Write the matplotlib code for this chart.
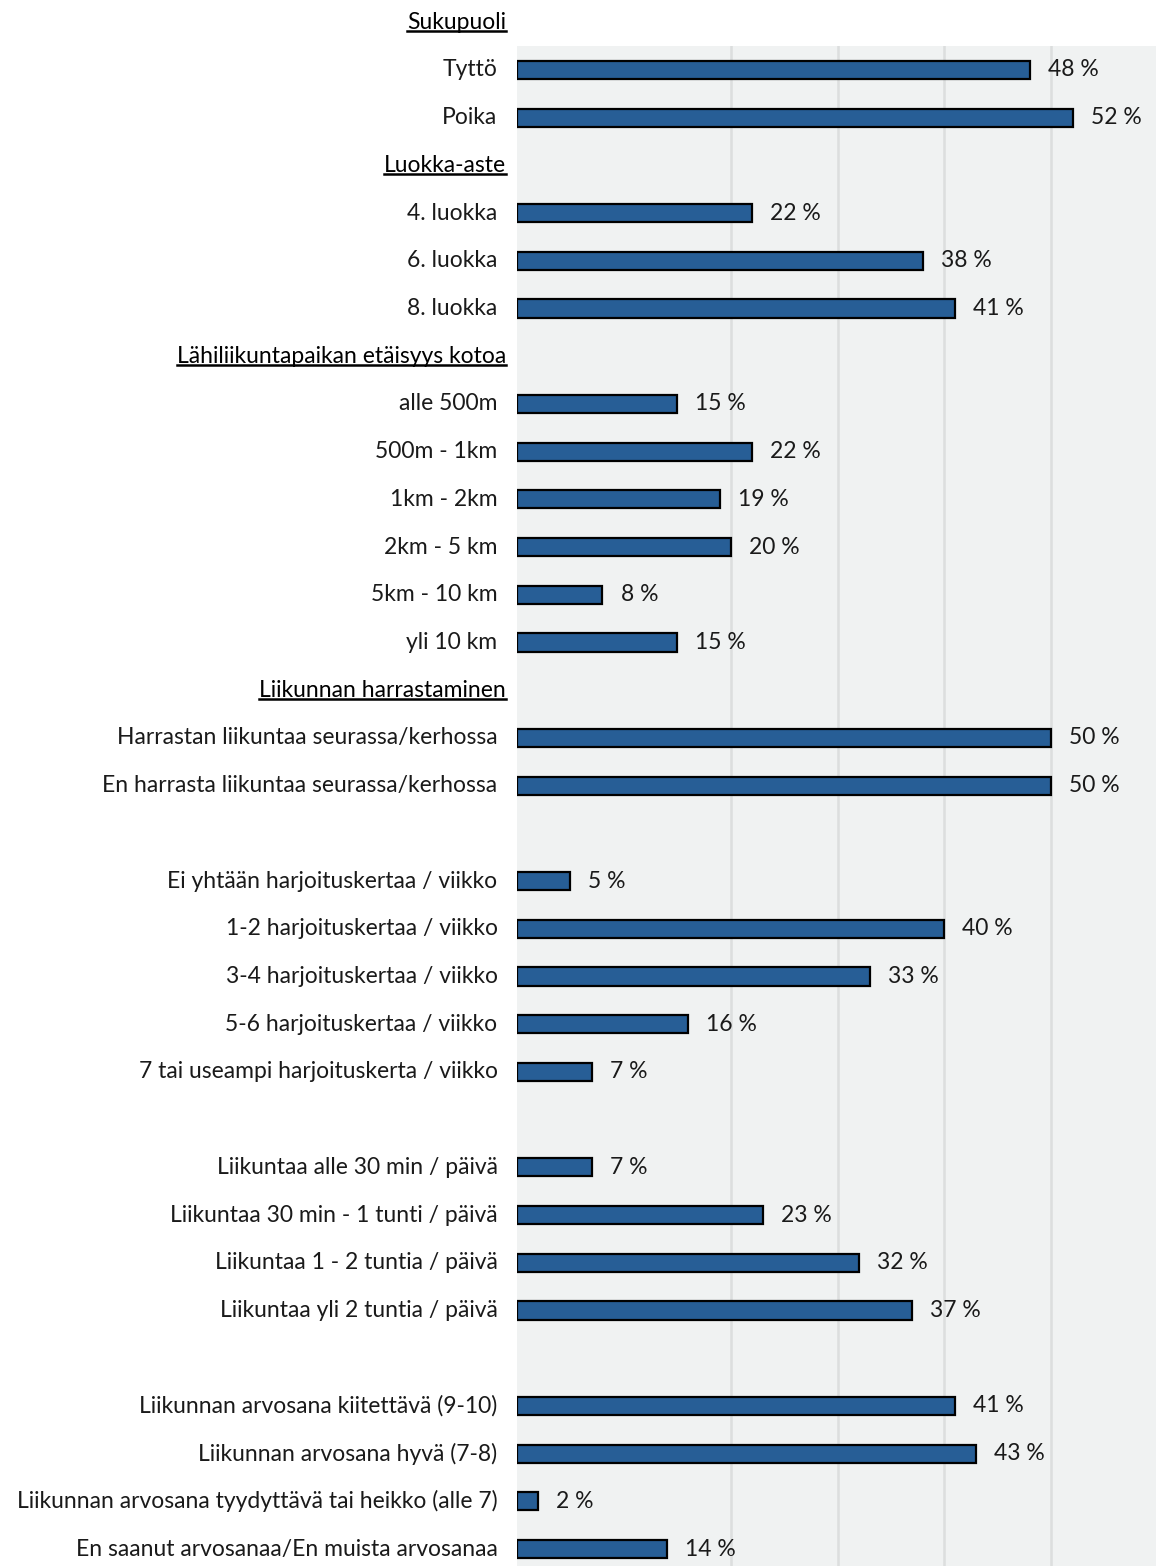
import matplotlib

matplotlib.use("Agg")
import matplotlib.pyplot as plt
from matplotlib.lines import Line2D

plt.rcParams["font.family"] = ["Lato", "DejaVu Sans"]

# Survey groups: header, category labels and shares (%)
GENDER_TITLE = "Sukupuoli"
GENDER = ["Tyttö", "Poika"]
GENDER_PCT = [48, 52]

GRADE_TITLE = "Luokka-aste"
GRADE = ["4. luokka", "6. luokka", "8. luokka"]
GRADE_PCT = [22, 38, 41]

DIST_TITLE = "Lähiliikuntapaikan etäisyys kotoa"
DIST = ["alle 500m", "500m - 1km", "1km - 2km", "2km - 5 km", "5km - 10 km", "yli 10 km"]
DIST_PCT = [15, 22, 19, 20, 8, 15]

HOBBY_TITLE = "Liikunnan harrastaminen"
CLUB = ["Harrastan liikuntaa seurassa/kerhossa", "En harrasta liikuntaa seurassa/kerhossa"]
CLUB_PCT = [50, 50]

SESSIONS = [
    "Ei yhtään harjoituskertaa / viikko",
    "1-2 harjoituskertaa / viikko",
    "3-4 harjoituskertaa / viikko",
    "5-6 harjoituskertaa / viikko",
    "7 tai useampi harjoituskerta / viikko",
]
SESSIONS_PCT = [5, 40, 33, 16, 7]

DAILY = [
    "Liikuntaa alle 30 min / päivä",
    "Liikuntaa 30 min - 1 tunti / päivä",
    "Liikuntaa 1 - 2 tuntia / päivä",
    "Liikuntaa yli 2 tuntia / päivä",
]
DAILY_PCT = [7, 23, 32, 37]

MARK = [
    "Liikunnan arvosana kiitettävä (9-10)",
    "Liikunnan arvosana hyvä (7-8)",
    "Liikunnan arvosana tyydyttävä tai heikko (alle 7)",
    "En saanut arvosanaa/En muista arvosanaa",
]
MARK_PCT = [41, 43, 2, 14]

GROUPS = [
    (GENDER_TITLE, GENDER, GENDER_PCT),
    (GRADE_TITLE, GRADE, GRADE_PCT),
    (DIST_TITLE, DIST, DIST_PCT),
    (HOBBY_TITLE, CLUB, CLUB_PCT),
    ("", SESSIONS, SESSIONS_PCT),
    ("", DAILY, DAILY_PCT),
    ("", MARK, MARK_PCT),
]

# one row per header (or blank spacer) followed by the group's categories
rows = []
for title, labels, values in GROUPS:
    rows.append((title, None))
    rows.extend(zip(labels, values))

BAR_COLOR = "#275e96"
FONT_SIZE = 16.5

fig = plt.figure(figsize=(11.56, 15.66), dpi=100)
fig.patch.set_facecolor("white")
ax = fig.add_axes([517 / 1156, 0, 641 / 1156, (1566 - 46) / 1566])
ax.set_facecolor("#f0f2f2")

ax.set_xlim(0, 60)
ax.set_ylim((1566 - 22) / 47.72, 0.5)
for gx in [20, 30, 40, 50]:
    ax.axvline(gx, color="#dcdede", lw=1.8, zorder=0)

headers = []
for i, (label, value) in enumerate(rows):
    if value is None:
        if label:
            t = ax.annotate(label, xy=(0, i), xycoords=("axes fraction", "data"),
                            xytext=(-8, 0), textcoords="offset points",
                            ha="right", va="center", fontsize=FONT_SIZE,
                            color="black", annotation_clip=False)
            headers.append(t)
        continue
    ax.barh(i, value, height=0.38, color=BAR_COLOR, edgecolor="black",
            linewidth=1.6, zorder=2)
    ax.annotate(label, xy=(0, i), xycoords=("axes fraction", "data"),
                xytext=(-14, 0), textcoords="offset points",
                ha="right", va="center", fontsize=FONT_SIZE, color="#1a1a1a")
    ax.annotate(f"{value} %", xy=(value, i), xytext=(13, 0),
                textcoords="offset points", ha="left", va="center",
                fontsize=FONT_SIZE, color="#1a1a1a")

for side in ["top", "right", "bottom", "left"]:
    ax.spines[side].set_visible(False)
ax.set_xticks([])
ax.set_yticks([])

# underline the group headers
fig.canvas.draw()
renderer = fig.canvas.get_renderer()
inv = fig.transFigure.inverted()
for t in headers:
    bb = t.get_window_extent(renderer)
    (x0, y0), (x1, _) = inv.transform([(bb.x0, bb.y0 + 2), (bb.x1, bb.y0 + 2)])
    fig.add_artist(Line2D([x0, x1], [y0, y0], color="black", lw=1.8))

fig.savefig("out.png", dpi=100)
